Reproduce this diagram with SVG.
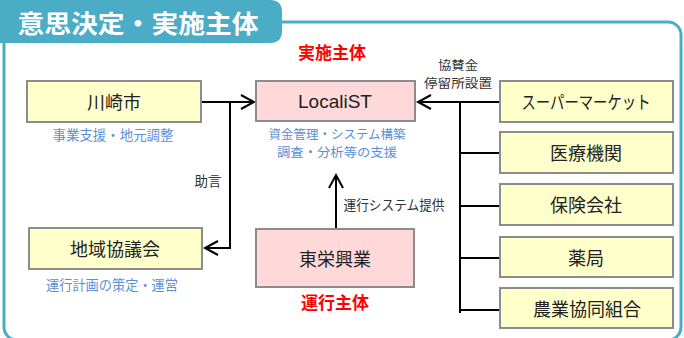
<svg xmlns="http://www.w3.org/2000/svg" width="684" height="338" viewBox="0 0 684 338">
<defs>
<style>
text{font-family:"Noto Sans CJK JP","Liberation Sans",sans-serif;dominant-baseline:central;text-anchor:middle}
.box{stroke:#8c8c8c;stroke-width:2}
.y{fill:#ffffcc}
.p{fill:#ffd9d9}
.nt{font-size:18px;fill:#222}
.bl{font-size:13.5px;fill:#5b8fd6}
.dk{font-size:13.5px;fill:#333}
.sm{font-size:12.5px}
.red{font-size:17px;font-weight:bold;fill:#ff0000}
.ln{stroke:#000;stroke-width:2;fill:none}
</style>
<marker id="ah" markerUnits="userSpaceOnUse" markerWidth="20" markerHeight="20" viewBox="-15 -10 17 20" refX="0" refY="0" orient="auto">
<path d="M -13 -7 L 0 0 L -13 7" fill="none" stroke="#000" stroke-width="2"/>
</marker>
</defs>
<rect width="684" height="338" fill="#fff"/>
<g id="frame">
<rect x="4" y="22" width="677" height="318" rx="13" fill="none" stroke="#4bacc6" stroke-width="3"/>
<path d="M0 0 H270 Q282 0 282 12 V31 Q282 43 270 43 H0 Z" fill="#4bacc6"/>
<text x="138" y="22" style="font-size:25px;font-weight:bold;fill:#fff" textLength="241" lengthAdjust="spacingAndGlyphs">意思決定・実施主体</text>
</g>
<g id="connectors">
<path class="ln" d="M201 102 H254" marker-end="url(#ah)"/>
<path class="ln" d="M230 102 V248 H205" marker-end="url(#ah)"/>
<path class="ln" d="M500 102 H418" marker-end="url(#ah)"/>
<path class="ln" d="M460 102 V313"/>
<path class="ln" d="M460 153 H500 M460 206 H500 M460 258 H500 M460 310 H500"/>
<path class="ln" d="M336 229 V175" marker-end="url(#ah)"/>
<text class="dk" x="208" y="180">助言</text>
<text class="dk sm" x="458" y="64" textLength="40" lengthAdjust="spacingAndGlyphs">協賛金</text>
<text class="dk sm" x="458" y="82" textLength="68" lengthAdjust="spacingAndGlyphs">停留所設置</text>
<text class="dk" x="394" y="204" textLength="101" lengthAdjust="spacingAndGlyphs">運行システム提供</text>
</g>
<g id="kawasaki">
<rect class="box y" x="27" y="81" width="174" height="41"/>
<text class="nt" x="114" y="101">川崎市</text>
<text class="bl" x="113" y="134" textLength="121" lengthAdjust="spacingAndGlyphs">事業支援・地元調整</text>
</g>
<g id="localist">
<text class="red" x="332" y="51">実施主体</text>
<rect class="box p" x="256" y="81" width="159" height="40"/>
<text class="nt" x="335" y="101" style="font-family:'Liberation Sans',sans-serif;font-size:19px">LocaliST</text>
<text class="bl sm" x="337" y="133" textLength="137" lengthAdjust="spacingAndGlyphs">資金管理・システム構築</text>
<text class="bl sm" x="337" y="151" textLength="120" lengthAdjust="spacingAndGlyphs">調査・分析等の支援</text>
</g>
<g id="chiiki">
<rect class="box y" x="29" y="228" width="173" height="41"/>
<text class="nt" x="115" y="248">地域協議会</text>
<text class="bl" x="112" y="284" textLength="132" lengthAdjust="spacingAndGlyphs">運行計画の策定・運営</text>
</g>
<g id="toei">
<rect class="box p" x="256" y="229" width="158" height="58"/>
<text class="nt" x="335" y="258">東栄興業</text>
<text class="red" x="335" y="301">運行主体</text>
</g>
<g id="super">
<rect class="box y" x="500" y="81" width="173" height="41"/>
<text class="nt" x="586" y="101" textLength="129" lengthAdjust="spacingAndGlyphs">スーパーマーケット</text>
</g>
<g id="iryo">
<rect class="box y" x="500" y="132" width="173" height="41"/>
<text class="nt" x="586" y="152">医療機関</text>
</g>
<g id="hoken">
<rect class="box y" x="500" y="184" width="173" height="41"/>
<text class="nt" x="586" y="204">保険会社</text>
</g>
<g id="yakkyoku">
<rect class="box y" x="500" y="237" width="173" height="40"/>
<text class="nt" x="586" y="257">薬局</text>
</g>
<g id="nokyo">
<rect class="box y" x="500" y="288" width="173" height="40"/>
<text class="nt" x="587" y="308">農業協同組合</text>
</g>
</svg>
